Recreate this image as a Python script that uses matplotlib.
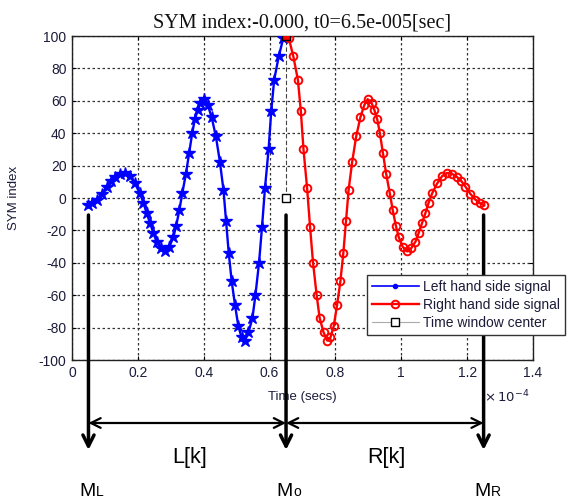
import matplotlib
matplotlib.use("Agg")
import matplotlib.pyplot as plt
from matplotlib.lines import Line2D

plt.rcParams["axes.unicode_minus"] = False

# ---------------- data (time in units of 1e-4 s) ----------------
t_left = [0.048, 0.06, 0.075, 0.09, 0.105, 0.118, 0.131, 0.146, 0.161, 0.176,
          0.191, 0.206, 0.217, 0.227, 0.237, 0.247, 0.257, 0.27, 0.282, 0.296,
          0.308, 0.316, 0.326, 0.335, 0.346, 0.356, 0.365, 0.373, 0.382, 0.39,
          0.402, 0.412, 0.424, 0.437, 0.449, 0.46, 0.468, 0.476, 0.485, 0.495,
          0.505, 0.515, 0.525, 0.536, 0.548, 0.557, 0.568, 0.577, 0.586, 0.597,
          0.605, 0.614, 0.628, 0.642, 0.65]
v_left = [-4.5, -3.3, -1, 2.5, 7, 10.5, 13, 15, 15.5, 13.5,
          9, 3, -3, -9.5, -15.5, -21.5, -27, -31, -33, -30,
          -24, -17.5, -7.5, 3, 15, 28, 40, 48.5, 54.5, 58.5,
          61, 57.5, 50, 38, 22.5, 5, -14.5, -34, -51.5, -66,
          -79, -86, -88, -83, -74, -60, -40, -18, 6, 30,
          53.5, 73, 87.5, 99, 100]

t_right = [0.65, 0.658, 0.672, 0.686, 0.695, 0.703, 0.714, 0.723, 0.732, 0.743,
           0.752, 0.764, 0.775, 0.785, 0.795, 0.805, 0.815, 0.824, 0.832, 0.84,
           0.851, 0.863, 0.876, 0.888, 0.898, 0.91, 0.918, 0.927, 0.935, 0.944,
           0.954, 0.965, 0.974, 0.984, 0.992, 1.004, 1.018, 1.03, 1.043, 1.053,
           1.063, 1.073, 1.083, 1.094, 1.109, 1.124, 1.139, 1.154, 1.169, 1.182,
           1.195, 1.21, 1.225, 1.24, 1.252]
v_right = [100, 99, 87.5, 73, 53.5, 30, 6, -18, -40, -60,
           -74, -83, -88, -86, -79, -66, -51.5, -34, -14.5, 5,
           22.5, 38, 50, 57.5, 61, 58.5, 54.5, 48.5, 40, 28,
           15, 3, -7.5, -17.5, -24, -30, -33, -31, -27, -21.5,
           -15.5, -9.5, -3, 3, 9, 13.5, 15.5, 15, 13, 10.5,
           7, 2.5, -1, -3.3, -4.5]

t_center = [0.65, 0.65]
v_center = [0, 100]

x_ticks = [0, 0.2, 0.4, 0.6, 0.8, 1.0, 1.2, 1.4]
x_tick_labels = ["0", "0.2", "0.4", "0.6", "0.8", "1", "1.2", "1.4"]
y_ticks = [-100, -80, -60, -40, -20, 0, 20, 40, 60, 80, 100]

marker_ML, marker_M0, marker_MR = 0.05, 0.65, 1.25

title_text = "SYM index:-0.000, t0=6.5e-005[sec]"
legend_labels = ["Left hand side signal", "Right hand side signal", "Time window center"]

# ---------------- figure ----------------
W, H = 573, 500
fig = plt.figure(figsize=(W / 100, H / 100), dpi=100)
fig.patch.set_facecolor("white")
ax = fig.add_axes([72 / W, 1 - 360 / H, (533 - 72) / W, (360 - 36) / H])

sans = ["Liberation Sans", "DejaVu Sans"]
serif = ["Liberation Serif", "DejaVu Serif"]
tick_col = "#1c1c3a"

# time-window center (dashed thin line with squares)
ax.plot(t_center, v_center, color="#444444", lw=0.8, ls=(0, (4, 2)),
        marker="s", ms=6, mfc="white", mec="black", mew=1.0, zorder=3)
ax.plot(t_left, v_left, color="#0000ff", lw=1.7, marker="*", ms=9,
        mfc="#0000ff", mec="#0000ff", zorder=4)
ax.plot(t_right, v_right, color="#ff0000", lw=1.7, marker="o", ms=5.5,
        mfc="none", mec="#ff0000", mew=1.4, zorder=4)
# top square filled red (overlap)
ax.plot(t_center[1:], v_center[1:], marker="s", ms=6, mfc="#ff0000", mec="black",
        mew=1.0, ls="none", zorder=5)

ax.set_xlim(0, 1.4)
ax.set_ylim(-100, 100)
ax.set_xticks(x_ticks)
ax.set_xticklabels(x_tick_labels)
ax.set_yticks(y_ticks)
ax.tick_params(direction="in", length=3, width=0.8, labelsize=10, colors="black",
               labelcolor=tick_col, top=True, right=True, pad=4)
for lab in ax.get_xticklabels() + ax.get_yticklabels():
    lab.set_family(sans)
ax.grid(True, color="#333333", lw=0.9, ls=(0, (2, 2)))
for s in ax.spines.values():
    s.set_linewidth(1.0)
    s.set_color("#222222")

ax.set_title(title_text, family=serif, fontsize=14.5, color="#111111", pad=6)
ax.set_xlabel("Time (secs)", family=sans, fontsize=9.5, color=tick_col)
ax.xaxis.set_label_coords(0.5, -0.095)
ax.set_ylabel("SYM index", family=sans, fontsize=9.5, color=tick_col)
ax.yaxis.set_label_coords(-0.113, 0.5)
ax.annotate(r"$\times\,10^{-4}$", xy=(0.993, -0.115), xycoords="axes fraction",
            ha="right", va="center", fontsize=9.5, color=tick_col, family=sans)

# legend
handles = [
    Line2D([], [], color="#0000ff", lw=1.2, marker=".", ms=6),
    Line2D([], [], color="#ff0000", lw=1.7, marker="o", ms=5.5, mfc="none", mew=1.4),
    Line2D([], [], color="#aaaaaa", lw=0.8, marker="s", ms=6, mfc="white",
           mec="black"),
]
leg = fig.legend(handles, legend_labels, loc="upper left",
                 bbox_to_anchor=(367 / W, 1 - 275 / H), fancybox=False,
                 framealpha=1, edgecolor="#333333", prop={"family": sans, "size": 10},
                 handlelength=3.4, handletextpad=0.3, borderpad=0.35,
                 labelspacing=0.3, borderaxespad=0)
leg.get_frame().set_linewidth(1.0)
for txt in leg.get_texts():
    txt.set_color(tick_col)

# ---------------- annotation arrows below ----------------
yc = ("data", "figure fraction")
y_top = 1 - 215 / H
y_tip = 1 - 450 / H
for xm in (marker_ML, marker_M0, marker_MR):
    ax.annotate("", xy=(xm, y_tip), xycoords=yc, xytext=(xm, y_top), textcoords=yc,
                arrowprops=dict(arrowstyle="->,head_length=0.8,head_width=0.4",
                                lw=2.5, color="black", shrinkA=0, shrinkB=0),
                annotation_clip=False)

y_h = 1 - 423 / H
for xa, xb in ((marker_ML, marker_M0), (marker_M0, marker_MR)):
    ax.annotate("", xy=(xb, y_h), xycoords=yc, xytext=(xa, y_h), textcoords=yc,
                arrowprops=dict(arrowstyle="<->,head_length=0.7,head_width=0.35",
                                lw=1.6, color="black", shrinkA=0, shrinkB=0),
                annotation_clip=False)

y_lab = 1 - 463 / H
ax.annotate("L[k]", xy=((marker_ML + marker_M0) / 2 + 0.007, y_lab), xycoords=yc,
            ha="center", va="baseline", fontsize=15.5, family=sans,
            annotation_clip=False)
ax.annotate("R[k]", xy=((marker_M0 + marker_MR) / 2 + 0.005, y_lab), xycoords=yc,
            ha="center", va="baseline", fontsize=15.5, family=sans,
            annotation_clip=False)

y_m = 1 - 496 / H
for xm, sub in ((marker_ML, "L"), (marker_M0, "o"), (marker_MR, "R")):
    ax.annotate("M", xy=(xm, y_m), xycoords=yc, xytext=(5, 0),
                textcoords="offset points", ha="right", va="baseline",
                fontsize=14, family=sans, annotation_clip=False)
    ax.annotate(sub, xy=(xm, y_m), xycoords=yc, xytext=(5, 0),
                textcoords="offset points", ha="left", va="baseline",
                fontsize=10, family=sans, annotation_clip=False)

fig.savefig("out.png", dpi=100, facecolor="white")
